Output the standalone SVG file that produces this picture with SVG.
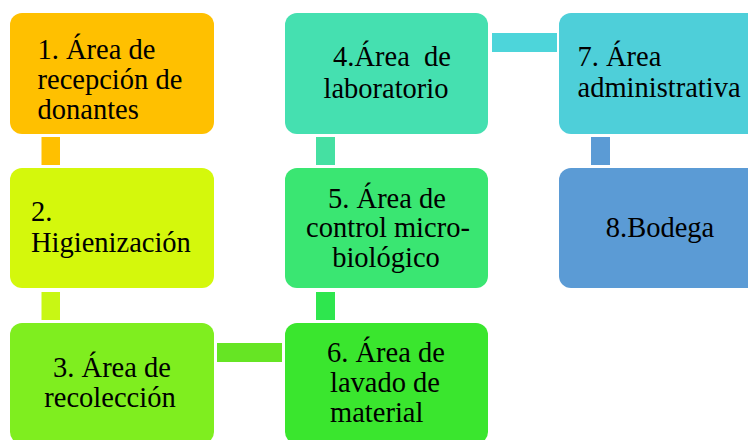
<svg xmlns="http://www.w3.org/2000/svg" width="748" height="440" viewBox="0 0 748 440">
<style>
.box{stroke:none}
.t{font-family:'Liberation Serif','DejaVu Serif',serif;font-size:28.5px;fill:#000;white-space:pre}
.c{text-anchor:middle}
</style>
<rect width="748" height="440" fill="#fff"/>
<g id="connectors">
<rect x="41.5" y="137" width="18.5" height="28" fill="#FFC000"/>
<rect x="41.5" y="292" width="18.5" height="28" fill="#C8F714"/>
<rect x="217" y="343" width="65" height="19" fill="#66E524"/>
<rect x="316" y="137" width="19" height="28" fill="#45E0A2"/>
<rect x="316" y="292" width="19" height="28" fill="#2EE64E"/>
<rect x="492" y="33" width="65" height="19" fill="#4DD5DA"/>
<rect x="591" y="137" width="19" height="28" fill="#5B9BD5"/>
</g>
<g id="n1">
<rect class="box" x="10" y="13" width="204" height="121" rx="12" fill="#FFC000"/>
<text class="t" x="37.5" y="59">1. Área de</text>
<text class="t" x="37.5" y="89">recepción de</text>
<text class="t" x="37.5" y="119">donantes</text>
</g>
<g id="n2">
<rect class="box" x="10" y="168" width="204" height="120" rx="12" fill="#D4F80C"/>
<text class="t" x="31" y="221">2.</text>
<text class="t" x="31" y="252">Higienización</text>
</g>
<g id="n3">
<rect class="box" x="10" y="323" width="204" height="121" rx="12" fill="#7FEE1F"/>
<text class="t c" x="112" y="377">3. Área de</text>
<text class="t c" x="110" y="407">recolección</text>
</g>
<g id="n4">
<rect class="box" x="285" y="13" width="203" height="121" rx="12" fill="#45E0B0"/>
<text class="t c" x="392" y="66">4.Área  de</text>
<text class="t c" x="386" y="97.5">laboratorio</text>
</g>
<g id="n5">
<rect class="box" x="285" y="168" width="203" height="120" rx="12" fill="#3AE672"/>
<text class="t c" x="387" y="207.5">5. Área de</text>
<text class="t c" x="388" y="237">control micro-</text>
<text class="t c" x="386" y="266.5">biológico</text>
</g>
<g id="n6">
<rect class="box" x="285" y="323" width="203" height="121" rx="12" fill="#3AE62E"/>
<text class="t" x="327" y="361.5">6. Área de</text>
<text class="t" x="330" y="391.5">lavado de</text>
<text class="t" x="330" y="421.5">material</text>
</g>
<g id="n7">
<rect class="box" x="559" y="13" width="203" height="121" rx="12" fill="#4ECFD9"/>
<text class="t" x="577.5" y="66">7. Área</text>
<text class="t" x="577.5" y="96.5">administrativa</text>
</g>
<g id="n8">
<rect class="box" x="559" y="168" width="203" height="120" rx="12" fill="#5B9BD5"/>
<text class="t c" x="660" y="237">8.Bodega</text>
</g>
</svg>
